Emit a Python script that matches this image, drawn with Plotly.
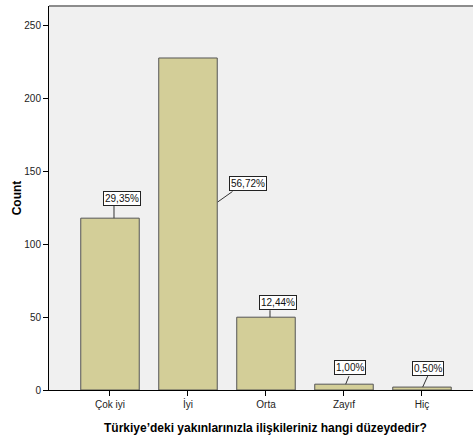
import plotly.graph_objects as go

categories = ["Çok iyi", "İyi", "Orta", "Zayıf", "Hiç"]
counts = [118, 228, 50, 4, 2]
percent_labels = ["29,35%", "56,72%", "12,44%", "1,00%", "0,50%"]
y_ticks = [0, 50, 100, 150, 200, 250]

# label box offsets (pixels) relative to bar top centre
label_shift = [(12, 20), (60, -126), (12, 15), (6.5, 16.5), (6, 19)]
# leader line offsets (pixels): (x0, y0, x1, y1) relative to bar top centre
leader = [(4, 0, 4, 12.5), (29.7, -144, 44.5, -133.5), (4, 0, 4, 7), (1.7, 0, 5, 8), (0.7, 0, 5.7, 11)]

FONT = "Liberation Sans Narrow, Liberation Sans, Arial, sans-serif"

fig = go.Figure()
fig.add_trace(go.Bar(
    x=categories, y=counts, width=0.75,
    marker=dict(color="#d3ce98", line=dict(color="#555555", width=1)),
    hoverinfo="skip",
))

for i, (cat, val, lab) in enumerate(zip(categories, counts, percent_labels)):
    dx, dy = label_shift[i]
    fig.add_annotation(
        x=cat, y=val, xref="x", yref="y", text=lab, showarrow=False,
        xshift=dx, yshift=dy,
        font=dict(family=FONT, size=10, color="#111111"),
        bgcolor="white", bordercolor="#222222", borderwidth=1, borderpad=1,
    )
    x0, y0, x1, y1 = leader[i]
    fig.add_shape(
        type="line", xref="x", yref="y",
        xsizemode="pixel", ysizemode="pixel", xanchor=cat, yanchor=val,
        x0=x0, y0=y0, x1=x1, y1=y1,
        line=dict(color="#333333", width=1),
    )

# top frame line
fig.add_shape(type="line", xref="paper", yref="paper", x0=0, x1=1, y0=1, y1=1,
              line=dict(color="#8c8c8c", width=2))

fig.add_annotation(
    text="<b>Türkiye’deki yakınlarınızla ilişkileriniz hangi düzeydedir?</b>",
    xref="paper", yref="paper", x=0.5115, y=-0.1, yanchor="middle", showarrow=False,
    font=dict(family="Liberation Sans, Arial, sans-serif", size=12, color="#000000"),
)

fig.update_layout(
    width=474, height=435,
    margin=dict(l=49, r=1, t=6, b=45),
    paper_bgcolor="white", plot_bgcolor="#f0f0f0",
    showlegend=False, bargap=0.25,
    xaxis=dict(
        type="category", range=[-0.782, 4.654],
        showline=True, linecolor="#000000", linewidth=1,
        ticks="outside", ticklen=5, tickcolor="#000000",
        tickfont=dict(family=FONT, size=10, color="#222222"),
        showgrid=False, zeroline=False,
    ),
    yaxis=dict(
        range=[0, 263.7], tickvals=y_ticks,
        showline=True, linecolor="#000000", linewidth=1,
        ticks="outside", ticklen=5, tickcolor="#000000",
        tickfont=dict(family=FONT, size=10, color="#222222"),
        showgrid=False, zeroline=False,
        title=dict(text="<b>Count</b>", standoff=0,
                   font=dict(family="Liberation Sans, Arial, sans-serif", size=12, color="#000000")),
    ),
)

fig.write_html("out.html", config={"displayModeBar": False},
               post_script="document.body.style.margin='0';document.body.style.overflow='hidden';")
